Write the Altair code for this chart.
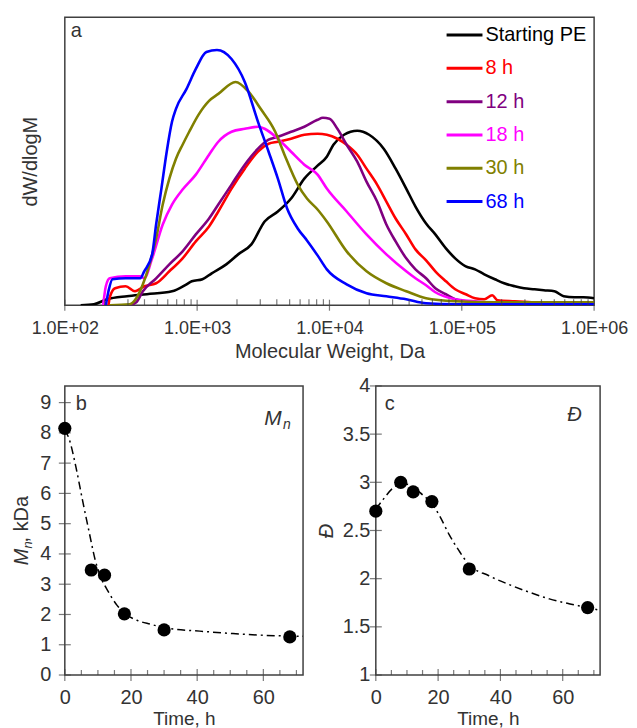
import altair as alt
import pandas as pd
import numpy as np

FONT = "Liberation Sans"
TXT = "#333333"
FRAME = "#404040"

# ---------------- panel a : GPC traces ----------------
series_names = ["Starting PE", "8 h", "12 h", "18 h", "30 h", "68 h"]
series_colors = ["#000000", "#ff0000", "#800080", "#ff00ff", "#808000", "#0000ff"]

pe_logm = [2.12, 2.22, 2.32, 2.47, 2.62, 2.81, 2.92, 2.96, 3.04, 3.11, 3.22, 3.31, 3.41, 3.51, 3.61,
           3.71, 3.81, 3.91, 3.98, 4.03, 4.11, 4.21, 4.30, 4.41, 4.50, 4.58, 4.65, 4.73, 4.80, 4.88,
           4.95, 5.03, 5.10, 5.17, 5.25, 5.32, 5.40, 5.47, 5.55, 5.62, 5.70, 5.77, 5.85, 5.92, 6.0]
pe_h = [0, 1, 6, 9, 11, 14, 21, 24, 26, 32, 41, 51, 61, 84, 94,
        107, 127, 140, 149, 161, 171, 175, 171, 157, 137, 117, 99, 82, 71, 57,
        47, 39, 36, 31, 26, 22, 19, 17, 16, 15, 14, 9, 8, 8, 7]

h8_logm = [2.33, 2.34, 2.38, 2.46, 2.53, 2.60, 2.69, 2.79, 2.89, 2.99, 3.09, 3.16, 3.26, 3.36, 3.46,
           3.54, 3.61, 3.71, 3.81, 3.91, 3.98, 4.06, 4.13, 4.21, 4.28, 4.36, 4.43, 4.50, 4.58, 4.65,
           4.73, 4.80, 4.88, 4.95, 5.03, 5.10, 5.17, 5.23, 5.27, 5.40, 5.55, 6.0]
h8_h = [0, 8, 17, 19, 14, 19, 22, 34, 47, 64, 79, 94, 117, 137, 154,
        162, 164, 167, 171, 172, 171, 167, 161, 151, 137, 121, 104, 87, 71, 56,
        45, 34, 24, 16, 11, 7, 6, 10, 5, 4, 3, 2]

h12_logm = [2.49, 2.54, 2.59, 2.69, 2.79, 2.89, 2.99, 3.09, 3.16, 3.26, 3.36, 3.46, 3.54, 3.61, 3.71,
            3.81, 3.91, 3.95, 4.00, 4.06, 4.13, 4.21, 4.28, 4.36, 4.43, 4.50, 4.58, 4.65, 4.73, 4.80,
            4.88, 4.95, 5.03, 5.17, 6.0]
h12_h = [0, 3, 14, 27, 41, 54, 71, 87, 101, 121, 141, 157, 166, 169, 174,
         179, 186, 188, 187, 177, 161, 144, 124, 104, 81, 64, 47, 36, 27, 17,
         11, 6, 4, 2, 2]

h18_logm = [2.29, 2.31, 2.34, 2.46, 2.57, 2.60, 2.66, 2.74, 2.81, 2.89, 2.99, 3.09, 3.16, 3.26, 3.36,
            3.46, 3.51, 3.61, 3.71, 3.81, 3.91, 3.98, 4.13, 4.28, 4.43, 4.58, 4.65, 4.73, 4.80, 4.95,
            5.10, 5.25, 6.0]
h18_h = [0, 19, 27, 29, 29, 27, 47, 81, 101, 116, 131, 151, 164, 174, 177,
         179, 177, 167, 154, 141, 131, 117, 94, 71, 51, 34, 27, 20, 13, 6,
         4, 2, 2]

h30_logm = [2.34, 2.49, 2.54, 2.59, 2.64, 2.69, 2.74, 2.79, 2.84, 2.89, 2.94, 3.01, 3.09, 3.16, 3.29,
            3.39, 3.48, 3.59, 3.66, 3.76, 3.83, 3.91, 3.98, 4.13, 4.28, 4.43, 4.58, 4.73, 4.95, 5.25, 6.0]
h30_h = [0, 1, 7, 21, 41, 67, 101, 127, 147, 161, 174, 191, 205, 212, 224,
         214, 197, 174, 151, 121, 107, 96, 84, 54, 34, 22, 14, 7, 4, 3, 3]

h68_logm = [2.31, 2.33, 2.36, 2.46, 2.57, 2.60, 2.66, 2.69, 2.73, 2.77, 2.81, 2.84, 2.92, 2.99, 3.07,
            3.15, 3.26, 3.36, 3.46, 3.54, 3.61, 3.68, 3.76, 3.83, 3.91, 3.98, 4.13, 4.28, 4.43, 4.58,
            4.73, 4.95, 6.0]
h68_h = [0, 14, 26, 27, 27, 34, 51, 81, 117, 154, 184, 197, 217, 237, 254,
         256, 247, 224, 184, 154, 127, 97, 77, 65, 50, 36, 21, 12, 9, 6,
         2, 1, 1]

mw_major = [1e2, 1e3, 1e4, 1e5, 1e6]
mw_minor = [k * 10 ** d for d in [2, 3, 4, 5] for k in range(2, 10)]

# ---------------- panels b, c ----------------
time_h = [0, 8, 12, 18, 30, 68]
mn_kda = [8.15, 3.47, 3.30, 2.02, 1.49, 1.26]
disp = [2.70, 3.00, 2.90, 2.80, 2.10, 1.70]

mn_fit_t = [0, 1.3, 3.3, 5.3, 7.3, 9.3, 11, 13, 15.8, 18.8, 22, 25.8, 30.8, 40.8, 50.8, 60.9, 72]
mn_fit_v = [8.1, 7.8, 6.9, 5.8, 4.75, 3.75, 3.2, 2.78, 2.3, 1.98, 1.8, 1.68, 1.55, 1.45, 1.37, 1.31, 1.28]
d_fit_t = [0, 2.3, 5.5, 8.5, 12, 15, 18, 20.5, 23.5, 26.7, 29.8, 36.3, 42.7, 49.2, 55.7, 62, 68, 72]
d_fit_v = [2.72, 2.82, 2.94, 2.99, 2.95, 2.87, 2.78, 2.65, 2.46, 2.29, 2.15, 2.03, 1.94, 1.86, 1.79, 1.74, 1.70, 1.67]

time_major = [0, 20, 40, 60]
time_minor = [5, 10, 15, 25, 30, 35, 45, 50, 55, 65, 70]
mn_ticks = list(range(0, 10))
d_ticks = [1, 1.5, 2, 2.5, 3, 3.5, 4]

# ---------------- build panel a ----------------
TOP_W, TOP_H = 531, 289
all_logm = [pe_logm, h8_logm, h12_logm, h18_logm, h30_logm, h68_logm]
all_h = [pe_h, h8_h, h12_h, h18_h, h30_h, h68_h]
rows = []
for si, (name, lm, hh) in enumerate(zip(series_names, all_logm, all_h)):
    for i, (a, b) in enumerate(zip(lm, hh)):
        rows.append({"series": name, "sidx": si, "M": 10 ** a, "h": b, "i": i})
gpc = pd.DataFrame(rows)

xs_a = alt.Scale(type="log", domain=[100, 1e6], nice=False)
ys_a = alt.Scale(domain=[0, 289], nice=False)
xax_a = alt.Axis(values=mw_major, labelExpr="'1.0E+0' + format(log(datum.value)/LN10, '.0f')",
                 title="Molecular Weight, Da", labelFontSize=18, titleFontSize=20,
                 labelPadding=14, titlePadding=4, labelFlush=False, labelOverlap=False)
yax_a = alt.Axis(title="dW/dlogM", labels=False, titleFontSize=20, titlePadding=24)
X_A = alt.X("M:Q", scale=xs_a, axis=xax_a)
Y_A = alt.Y("h:Q", scale=ys_a, axis=yax_a)

lines = alt.Chart(gpc).mark_line(strokeWidth=2.6, interpolate="monotone", clip=True).encode(
    x=X_A, y=Y_A,
    color=alt.Color("series:N", scale=alt.Scale(domain=series_names, range=series_colors), legend=None),
    detail="sidx:N",
    order="i:Q",
)

minor_a = alt.Chart(pd.DataFrame({"M": mw_minor, "h": [0] * len(mw_minor)})).mark_tick(
    orient="vertical", size=6, thickness=1.2, color=FRAME, yOffset=-3).encode(x=X_A, y=Y_A)
major_a = alt.Chart(pd.DataFrame({"M": mw_major, "h": [0] * len(mw_major)})).mark_tick(
    orient="vertical", size=11, thickness=1.2, color=FRAME).encode(x=X_A, y=Y_A)


def txt(s, x, y, size=20, style="normal", angle=0, color=TXT, baseline="alphabetic"):
    return alt.Chart(pd.DataFrame({"t": [s]})).mark_text(
        align="left", baseline=baseline, fontSize=size, font=FONT, color=color,
        fontStyle=style, angle=angle).encode(text="t:N", x=alt.value(x), y=alt.value(y))


# hand-placed legend (coloured labels)
LEG_X0, LEG_X1, LEG_Y0, LEG_DY = 383, 419, 18, 33.4
legend_layers = []
for k, (name, col) in enumerate(zip(series_names, series_colors)):
    ly = LEG_Y0 + LEG_DY * k
    legend_layers.append(
        alt.Chart(pd.DataFrame({"s": [name]})).mark_rule(strokeWidth=3, color=col).encode(
            x=alt.value(LEG_X0), x2=alt.value(LEG_X1), y=alt.value(ly)))
    legend_layers.append(txt(name, LEG_X1 + 3, ly, 20, color=col, baseline="middle"))

top = alt.layer(lines, minor_a, major_a, txt("a", 6, 20), *legend_layers).properties(
    width=TOP_W, height=TOP_H)


# ---------------- build panels b & c ----------------
def small_panel(values, fit_t, fit_v, ydom, yticks, yfmt, ytitle, lpad, tpad):
    xs = alt.Scale(domain=[0, 72], nice=False)
    ys = alt.Scale(domain=ydom, nice=False)
    pts = pd.DataFrame({"t": time_h, "v": values})
    fit = pd.DataFrame({"t": fit_t, "v": fit_v})
    xax = alt.Axis(values=time_major, title="Time, h", labelFontSize=20, titleFontSize=19,
                   labelPadding=13, titlePadding=2, labelFlush=False, labelOverlap=False)
    yax = alt.Axis(values=yticks, format=yfmt, labelFontSize=20, labelPadding=lpad,
                   title=ytitle, titleFontSize=20, titleFontStyle="italic", titlePadding=tpad,
                   labelFlush=False, labelOverlap=False)
    X = alt.X("t:Q", scale=xs, axis=xax)
    Y = alt.Y("v:Q", scale=ys, axis=yax)
    line = alt.Chart(fit).mark_line(color="black", strokeWidth=1.5, strokeDash=[8, 4, 2, 4],
                                    interpolate="monotone").encode(x=X, y=Y)
    dots = alt.Chart(pts).mark_circle(size=175, color="black", opacity=1).encode(x=X, y=Y)
    ytk = alt.Chart(pd.DataFrame({"t": [0] * len(yticks), "v": yticks})).mark_tick(
        orient="horizontal", size=12, thickness=1.2, color=FRAME).encode(x=X, y=Y)
    xtk = alt.Chart(pd.DataFrame({"t": time_major, "v": [ydom[0]] * len(time_major)})).mark_tick(
        orient="vertical", size=12, thickness=1.2, color=FRAME).encode(x=X, y=Y)
    xmn = alt.Chart(pd.DataFrame({"t": time_minor, "v": [ydom[0]] * len(time_minor)})).mark_tick(
        orient="vertical", size=5, thickness=1.2, color=FRAME, yOffset=-2.5).encode(x=X, y=Y)
    return [line, ytk, xtk, xmn, dots]


b_layers = small_panel(mn_kda, mn_fit_t, mn_fit_v, [0, 9.55], mn_ticks, "d", None, 14, 4)
b_layers += [txt("b", 11, 24), txt("M", 200, 39, 21, "italic"), txt("n", 219, 43, 14, "italic"),
             txt("M", -37, 180, 20, "italic", 270), txt("n", -33, 163, 13, "italic", 270),
             txt(", kDa", -37, 157, 20, "normal", 270)]
panel_b = alt.layer(*b_layers).properties(width=239, height=290)

c_layers = small_panel(disp, d_fit_t, d_fit_v, [1, 4], d_ticks, ".1~f", "Đ", 6, 6)
c_layers += [txt("c", 9, 24), txt("Đ", 192, 35, 20, "italic")]
panel_c = alt.layer(*c_layers).properties(width=225, height=290)

chart = alt.vconcat(top, alt.hconcat(panel_b, panel_c, spacing=8), spacing=13).properties(
    padding={"left": 3, "top": 7, "right": 0, "bottom": 0}
).configure_view(stroke=FRAME, strokeWidth=1.5).configure_axis(
    labelFont=FONT, titleFont=FONT, labelColor=TXT, titleColor=TXT, grid=False,
    domain=False, ticks=False, titleFontWeight="normal"
)

chart.save("out.html", embed_options={"renderer": "svg", "actions": False})
